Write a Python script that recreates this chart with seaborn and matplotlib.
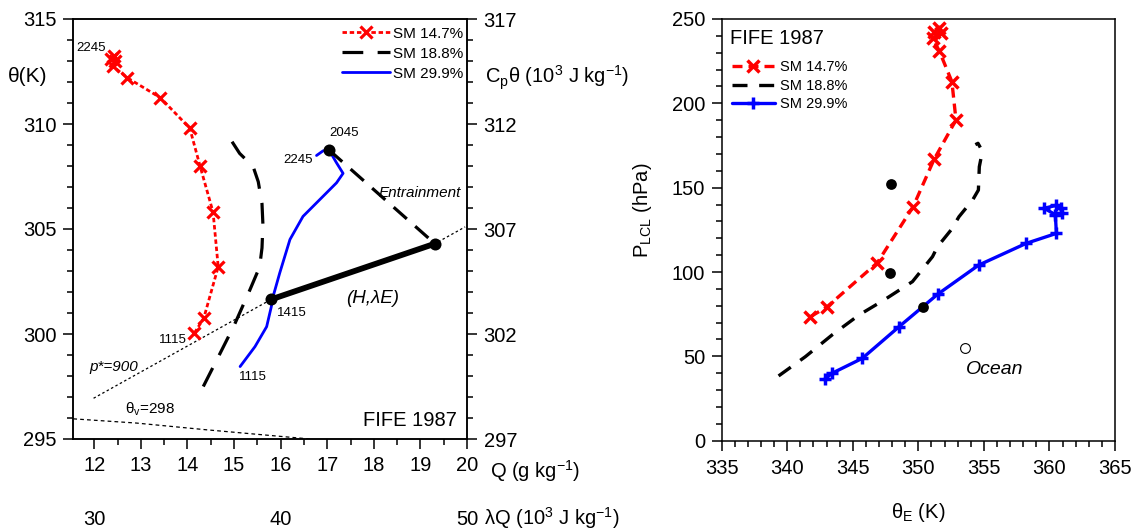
import matplotlib
matplotlib.use("Agg")
import matplotlib.pyplot as plt
from matplotlib.ticker import MultipleLocator, NullLocator
import seaborn as sns

# ---------------- left panel: theta vs Q (FIFE 1987 diurnal paths) ----------------
red_q = [14.15, 14.35, 14.66, 14.55, 14.27, 14.05, 13.42, 12.71, 12.40, 12.45, 12.35, 12.42]
red_th = [300.05, 300.75, 303.2, 305.8, 308.0, 309.8, 311.25, 312.2, 312.75, 313.0, 313.1, 313.25]

blk_q = [14.34, 14.66, 15.00, 15.34, 15.55, 15.60, 15.62, 15.60, 15.52, 15.41, 15.12, 14.98, 14.91, 14.72]
blk_th = [297.5, 298.9, 300.4, 302.1, 303.2, 304.1, 305.2, 306.2, 307.25, 307.97, 308.6, 309.08, 309.32, 309.4]

blu_q = [15.13, 15.45, 15.70, 15.80, 15.84, 15.98, 16.20, 16.48, 16.84, 17.20, 17.34, 17.20, 17.04, 16.91, 16.77]
blu_th = [298.45, 299.4, 300.35, 301.3, 301.8, 302.9, 304.5, 305.6, 306.4, 307.2, 307.65, 308.15, 308.76, 308.72, 308.5]

# key states: 1415, 2045 and the end of the (H, lambda E) vector
dot_q = [15.80, 17.04, 19.31]
dot_th = [301.65, 308.76, 304.3]

pstar_q = [11.985, 15.80, 19.31, 19.96]
pstar_th = [296.94, 301.65, 304.3, 305.1]

thv_q = [11.55, 12.90, 14.40, 16.63]
thv_th = [295.96, 295.76, 295.44, 295.0]

q_ticks = [12, 13, 14, 15, 16, 17, 18, 19, 20]
th_ticks = [295, 300, 305, 310, 315]
cpth_ticks = [297, 302, 307, 312, 317]
lq_ticks = [30, 40, 50]

# ---------------- right panel: P_LCL vs theta_E ----------------
r_red_te = [341.77, 343.04, 346.87, 349.6, 351.2, 352.87, 352.56, 351.6, 351.1, 351.7, 351.2, 351.6]
r_red_p = [73.5, 79.4, 105.5, 138.7, 166.8, 190.1, 212.8, 231.0, 238.5, 241.5, 242.5, 244.4]

r_blk_te = [339.34, 341.38, 343.42, 345.47, 347.38, 349.55, 351.08, 351.46, 352.49, 353.1,
            354.14, 354.58, 354.65, 354.8, 354.75, 354.55, 354.35]
r_blk_p = [38.4, 49.8, 62.7, 74.5, 83.4, 94.3, 109.1, 115.0, 124.9, 132.8,
           142.7, 148.6, 162.4, 168.3, 173.5, 176.3, 175.5]

r_blu_te = [342.86, 343.42, 345.72, 348.53, 351.47, 354.6, 358.23, 360.53, 360.45, 359.6, 360.5, 360.85, 360.95]
r_blu_p = [36.4, 40.0, 48.8, 67.6, 86.8, 104.1, 117.0, 122.9, 134.0, 137.8, 139.5, 137.8, 135.0]

r_dot_te = [347.94, 347.82, 350.37]
r_dot_p = [152.2, 99.2, 79.1]

ocean_te = [353.56]
ocean_p = [55.1]

te_ticks = [335, 340, 345, 350, 355, 360, 365]
p_ticks = [0, 50, 100, 150, 200, 250]

labels = ["SM 14.7%", "SM 18.8%", "SM 29.9%"]

sns.set_theme(style="ticks")
plt.rcParams["font.family"] = ["Liberation Sans", "DejaVu Sans"]
plt.rcParams["mathtext.fontset"] = "custom"
plt.rcParams["mathtext.rm"] = "Liberation Sans"
plt.rcParams["mathtext.it"] = "Liberation Sans"
plt.rcParams["mathtext.bf"] = "Liberation Sans:bold"
plt.rcParams["axes.linewidth"] = 1.1
plt.rcParams["axes.edgecolor"] = "black"
for key in ("text.color", "axes.labelcolor", "xtick.color", "ytick.color",
            "xtick.labelcolor", "ytick.labelcolor"):
    plt.rcParams[key] = "black"

W, H = 1137, 531
fig = plt.figure(figsize=(W / 100, H / 100), dpi=100)
ax = fig.add_axes([73.3 / W, 1 - 439 / H, (467 - 73.3) / W, (439 - 19) / H])
axr = fig.add_axes([721.7 / W, 1 - 440.7 / H, (1115 - 721.7) / W, (440.7 - 19) / H])

TICK_FS = 14.5
RED, BLUE = "#ff0000", "#0000ff"

line_kw = dict(sort=False, estimator=None, errorbar=None)

# ---- left panel ----
h_red = sns.lineplot(x=red_q, y=red_th, ax=ax, color=RED, lw=2.0, linestyle=(0, (1.6, 1.0)),
                     marker="x", markersize=9, markeredgewidth=2.3, markeredgecolor=RED,
                     zorder=3, **line_kw).lines[-1]
h_blk = sns.lineplot(x=blk_q, y=blk_th, ax=ax, color="black", lw=2.3, linestyle=(0, (6.5, 4.5)),
                     zorder=3, **line_kw).lines[-1]
h_blu = sns.lineplot(x=blu_q, y=blu_th, ax=ax, color=BLUE, lw=2.0, zorder=3, **line_kw).lines[-1]

sns.lineplot(x=pstar_q, y=pstar_th, ax=ax, color="black", lw=0.9, linestyle=(0, (2, 2)), zorder=2, **line_kw)
sns.lineplot(x=thv_q, y=thv_th, ax=ax, color="black", lw=0.9, linestyle=(0, (3, 2.5)), zorder=2, **line_kw)

# (H, lambda E) vector and entrainment leg
sns.lineplot(x=[dot_q[0], dot_q[2]], y=[dot_th[0], dot_th[2]], ax=ax, color="black", lw=4.2,
             zorder=4, **line_kw)
sns.lineplot(x=[dot_q[1], dot_q[2]], y=[dot_th[1], dot_th[2]], ax=ax, color="black", lw=2.3,
             linestyle=(0, (5.5, 3.5)), zorder=4, **line_kw)
sns.scatterplot(x=dot_q, y=dot_th, ax=ax, color="black", s=75, edgecolor="black", linewidth=0, zorder=5)

ax.set_xlim(11.55, 20)
ax.set_ylim(295, 315)
ax.set_xticks(q_ticks)
ax.set_yticks(th_ticks)
ax.xaxis.set_minor_locator(MultipleLocator(0.5))
ax.yaxis.set_minor_locator(MultipleLocator(1))
ax.tick_params(which="major", direction="out", length=7, width=1.1, labelsize=TICK_FS, color="black")
ax.tick_params(which="minor", direction="out", length=4.5, width=1.1, color="black")
ax.tick_params(axis="x", which="major", pad=5)
ax.tick_params(axis="y", which="major", pad=5)
ax.set_xlabel("")
ax.set_ylabel("")
for s in ax.spines.values():
    s.set_visible(True)
    s.set_color("black")

ax2 = ax.twinx()
ax2.set_ylim(297, 317)
ax2.set_yticks(cpth_ticks)
ax2.yaxis.set_minor_locator(MultipleLocator(1))
ax2.tick_params(which="major", direction="out", length=7, width=1.1, labelsize=TICK_FS, pad=5, color="black")
ax2.tick_params(which="minor", direction="out", length=4.5, width=1.1, color="black")

sec = ax.secondary_xaxis(-0.168, functions=(lambda q: q * 2.5, lambda lq: lq / 2.5))
sec.set_xticks(lq_ticks)
sec.xaxis.set_minor_locator(NullLocator())
sec.tick_params(length=0, labelsize=TICK_FS, pad=0)
sec.spines["bottom"].set_visible(False)

small = 9.5
ax.text(11.94, 313.62, "2245", fontsize=small, ha="center", va="center")
ax.text(13.69, 299.71, "1115", fontsize=small, ha="center", va="center")
ax.text(15.40, 297.93, "1115", fontsize=small, ha="center", va="center")
ax.text(16.24, 301.02, "1415", fontsize=small, ha="center", va="center")
ax.text(16.38, 308.29, "2245", fontsize=small, ha="center", va="center")
ax.text(17.37, 309.55, "2045", fontsize=small, ha="center", va="center")
ax.text(18.99, 306.71, "Entrainment", fontsize=11, style="italic", ha="center", va="center")
ax.text(17.97, 301.71, "(H,λE)", fontsize=13.5, style="italic", ha="center", va="center")
ax.text(12.42, 298.45, "p*=900", fontsize=11, style="italic", ha="center", va="center")
ax.text(12.66, 296.43, r"θ$_v$=298", fontsize=11, ha="left", va="center")
ax.text(19.79, 295.9, "FIFE 1987", fontsize=14.5, ha="right", va="center")

ax.legend([h_red, h_blk, h_blu], labels, loc="upper right", bbox_to_anchor=(0.99, 0.982),
          frameon=False, fontsize=11, handlelength=3.1, handletextpad=0.2,
          labelspacing=0.4, borderpad=0, borderaxespad=0)

fig.text(8.3 / W, 1 - 81.7 / H, "θ(K)", fontsize=15, ha="left", va="baseline")
fig.text(485 / W, 1 - 83.3 / H, r"C$_p$θ (10$^3$ J kg$^{-1}$)", fontsize=14.5, ha="left", va="baseline")
fig.text(490 / W, 1 - 478 / H, r"Q (g kg$^{-1}$)", fontsize=14.5, ha="left", va="baseline")
fig.text(484 / W, 1 - 525 / H, r"λQ (10$^3$ J kg$^{-1}$)", fontsize=14.5, ha="left", va="baseline")

# ---- right panel ----
g_red = sns.lineplot(x=r_red_te, y=r_red_p, ax=axr, color=RED, lw=2.4, linestyle=(0, (3.0, 1.8)),
                     marker="x", markersize=8.5, markeredgewidth=2.5, markeredgecolor=RED,
                     zorder=3, **line_kw).lines[-1]
g_blk = sns.lineplot(x=r_blk_te, y=r_blk_p, ax=axr, color="black", lw=2.4, linestyle=(0, (4.5, 3.5)),
                     zorder=3, **line_kw).lines[-1]
g_blu = sns.lineplot(x=r_blu_te, y=r_blu_p, ax=axr, color=BLUE, lw=2.4,
                     marker="+", markersize=9, markeredgewidth=2.5, markeredgecolor=BLUE,
                     zorder=3, **line_kw).lines[-1]
sns.scatterplot(x=r_dot_te, y=r_dot_p, ax=axr, color="black", s=60, edgecolor="black", linewidth=0, zorder=5)
sns.scatterplot(x=ocean_te, y=ocean_p, ax=axr, color="white", s=50, edgecolor="black", linewidth=0.8, zorder=5)
axr.text(353.64, 42.5, "Ocean", fontsize=14, style="italic", ha="left", va="center")

axr.set_xlim(335, 365)
axr.set_ylim(0, 250)
axr.set_xticks(te_ticks)
axr.set_yticks(p_ticks)
axr.xaxis.set_minor_locator(MultipleLocator(1))
axr.yaxis.set_minor_locator(MultipleLocator(10))
axr.tick_params(which="major", direction="out", length=7, width=1.1, labelsize=TICK_FS, color="black")
axr.tick_params(which="minor", direction="out", length=4.5, width=1.1, color="black")
axr.tick_params(axis="x", which="major", pad=6)
axr.tick_params(axis="y", which="major", pad=5)
axr.set_xlabel("")
axr.set_ylabel("")
for s in axr.spines.values():
    s.set_visible(True)
    s.set_color("black")

axr.text(0.021, 0.954, "FIFE 1987", transform=axr.transAxes, fontsize=14.5, ha="left", va="center")
axr.legend([g_red, g_blk, g_blu], labels, loc="upper left", bbox_to_anchor=(0.025, 0.902),
           frameon=False, fontsize=10.5, handlelength=3.0, handletextpad=0.34,
           labelspacing=0.3, borderpad=0, borderaxespad=0)

fig.text(918 / W, 1 - 518 / H, r"θ$_E$ (K)", fontsize=14.5, ha="center", va="baseline")
fig.text(642 / W, 1 - 210 / H, r"P$_{LCL}$ (hPa)", fontsize=14.5, rotation=90, ha="center", va="center")

fig.savefig("out.png", dpi=100)
